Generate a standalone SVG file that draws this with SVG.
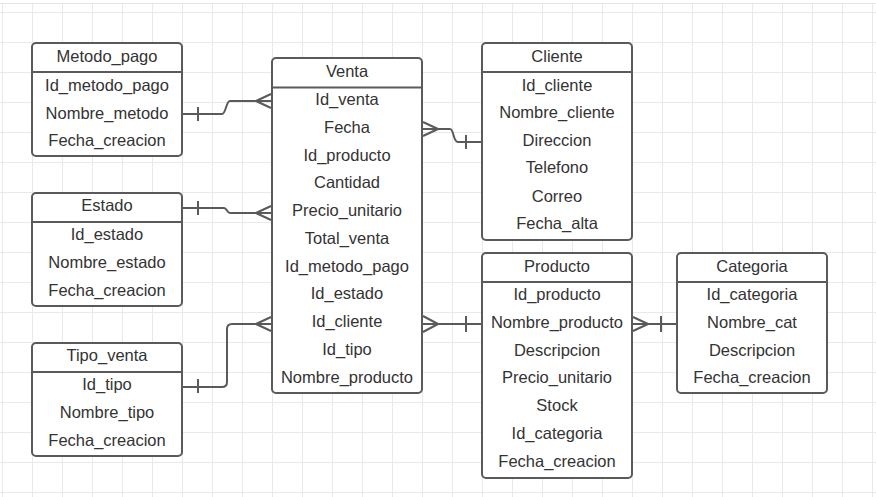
<svg xmlns="http://www.w3.org/2000/svg" width="876" height="497" viewBox="0 0 876 497">
  <defs>
    <pattern id="grid" patternUnits="userSpaceOnUse" x="2" y="12" width="30" height="30">
      <path d="M0.5,0 V30 M0,0.5 H30" fill="none" stroke="#e9e9e9" stroke-width="1"/>
    </pattern>
    <style>
      .box { fill: #ffffff; stroke: #5a5a5a; stroke-width: 2; }
      .div { stroke: #5a5a5a; stroke-width: 2; fill: none; }
      .t { font-family: "Liberation Sans", Arial, sans-serif; font-size: 16.5px; fill: #333333; text-anchor: middle; }
      .c { fill: none; stroke: #5a5a5a; stroke-width: 2; stroke-linejoin: round; }
    </style>
  </defs>
  <rect x="0" y="0" width="876" height="497" fill="#ffffff"/>
  <rect x="0" y="4" width="876" height="493" fill="url(#grid)"/>
  <line x1="0" y1="3.5" x2="876" y2="3.5" stroke="#e2e6ec" stroke-width="1"/>

  <g id="connectors">
    <path class="c" d="M182,114 H222 C226,114 226,101 230,101 H272 M198,107 V121 M256,101 L271,94 M256,101 L271,108"/>
    <path class="c" d="M182,208 H224 C227,208 227,213 230,213 H272 M198,201 V215 M256,213 L271,206 M256,213 L271,220"/>
    <path class="c" d="M182,387 H222 Q227,387 227,382 V329 Q227,324 232,324 H272 M198,379 V393 M256,324 L271,317 M256,324 L271,331"/>
    <path class="c" d="M422,129 H450 C454,129 453,142 458,142 H482 M466,135 V149 M438,129 L423,122 M438,129 L423,136"/>
    <path class="c" d="M422,324 H482 M466,316 V332 M438,324 L423,316 M438,324 L423,332"/>
    <path class="c" d="M632,324 H677 M661,316 V332 M648,324 L633,317 M648,324 L633,331"/>
  </g>

  <g id="metodo_pago">
    <rect class="box" x="32" y="43" width="150" height="113" rx="4"/>
    <line class="div" x1="32" y1="72" x2="182" y2="72"/>
    <text class="t" x="107" y="62">Metodo_pago</text>
    <text class="t" x="107" y="91">Id_metodo_pago</text>
    <text class="t" x="107" y="119">Nombre_metodo</text>
    <text class="t" x="107" y="146">Fecha_creacion</text>
  </g>

  <g id="estado">
    <rect class="box" x="32" y="193" width="150" height="113" rx="4"/>
    <line class="div" x1="32" y1="222" x2="182" y2="222"/>
    <text class="t" x="107" y="211">Estado</text>
    <text class="t" x="107" y="240">Id_estado</text>
    <text class="t" x="107" y="268">Nombre_estado</text>
    <text class="t" x="107" y="296">Fecha_creacion</text>
  </g>

  <g id="tipo_venta">
    <rect class="box" x="32" y="343" width="150" height="113" rx="4"/>
    <line class="div" x1="32" y1="372" x2="182" y2="372"/>
    <text class="t" x="107" y="361">Tipo_venta</text>
    <text class="t" x="107" y="390">Id_tipo</text>
    <text class="t" x="107" y="418">Nombre_tipo</text>
    <text class="t" x="107" y="446">Fecha_creacion</text>
  </g>

  <g id="venta">
    <rect class="box" x="272" y="58" width="150" height="335" rx="4"/>
    <line class="div" x1="272" y1="87.5" x2="422" y2="87.5"/>
    <text class="t" x="347" y="77">Venta</text>
    <text class="t" x="347" y="105">Id_venta</text>
    <text class="t" x="347" y="133">Fecha</text>
    <text class="t" x="347" y="161">Id_producto</text>
    <text class="t" x="347" y="188">Cantidad</text>
    <text class="t" x="347" y="216">Precio_unitario</text>
    <text class="t" x="347" y="244">Total_venta</text>
    <text class="t" x="347" y="272">Id_metodo_pago</text>
    <text class="t" x="347" y="299">Id_estado</text>
    <text class="t" x="347" y="327">Id_cliente</text>
    <text class="t" x="347" y="355">Id_tipo</text>
    <text class="t" x="347" y="383">Nombre_producto</text>
  </g>

  <g id="cliente">
    <rect class="box" x="482" y="43" width="150" height="197" rx="4"/>
    <line class="div" x1="482" y1="72" x2="632" y2="72"/>
    <text class="t" x="557" y="62">Cliente</text>
    <text class="t" x="557" y="91">Id_cliente</text>
    <text class="t" x="557" y="118">Nombre_cliente</text>
    <text class="t" x="557" y="146">Direccion</text>
    <text class="t" x="557" y="173">Telefono</text>
    <text class="t" x="557" y="202">Correo</text>
    <text class="t" x="557" y="229">Fecha_alta</text>
  </g>

  <g id="producto">
    <rect class="box" x="482" y="253" width="150" height="225" rx="4"/>
    <line class="div" x1="482" y1="282" x2="632" y2="282"/>
    <text class="t" x="557" y="272">Producto</text>
    <text class="t" x="557" y="300">Id_producto</text>
    <text class="t" x="557" y="328">Nombre_producto</text>
    <text class="t" x="557" y="356">Descripcion</text>
    <text class="t" x="557" y="383">Precio_unitario</text>
    <text class="t" x="557" y="411">Stock</text>
    <text class="t" x="557" y="439">Id_categoria</text>
    <text class="t" x="557" y="467">Fecha_creacion</text>
  </g>

  <g id="categoria">
    <rect class="box" x="677" y="253" width="150" height="140" rx="4"/>
    <line class="div" x1="677" y1="282" x2="827" y2="282"/>
    <text class="t" x="752" y="272">Categoria</text>
    <text class="t" x="752" y="300">Id_categoria</text>
    <text class="t" x="752" y="328">Nombre_cat</text>
    <text class="t" x="752" y="356">Descripcion</text>
    <text class="t" x="752" y="383">Fecha_creacion</text>
  </g>
</svg>
